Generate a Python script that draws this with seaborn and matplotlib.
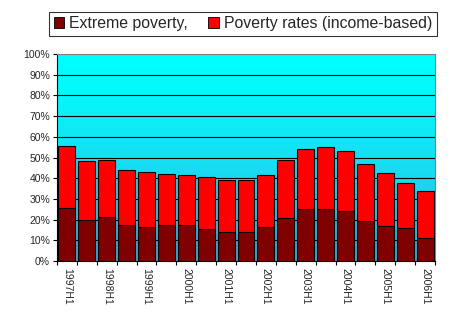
import numpy as np
import pandas as pd
import matplotlib
matplotlib.use("Agg")
import matplotlib.pyplot as plt
import seaborn as sns
from matplotlib.patches import Patch
from matplotlib.ticker import PercentFormatter, FixedLocator

periods = ["1997H1", "1997H2", "1998H1", "1998H2", "1999H1", "1999H2", "2000H1",
           "2000H2", "2001H1", "2001H2", "2002H1", "2002H2", "2003H1", "2003H2",
           "2004H1", "2004H2", "2005H1", "2005H2", "2006H1"]
extreme_poverty = [25.7, 19.8, 21.1, 17.2, 16.6, 17.2, 17.2, 15.3, 14.2, 14.1,
                   16.6, 20.9, 25.3, 25.3, 24.0, 19.2, 17.1, 15.8, 11.0]
poverty_rate = [55.5, 48.3, 48.8, 43.8, 42.8, 42.0, 41.4, 40.4, 39.1, 39.1,
                41.4, 48.6, 54.0, 54.9, 53.0, 46.7, 42.4, 37.5, 33.7]
legend_labels = ["Extreme poverty,", "Poverty rates (income-based)"]

df = pd.DataFrame({"period": periods,
                   "extreme": np.array(extreme_poverty) / 100,
                   "poverty": np.array(poverty_rate) / 100})

sns.set_style("white")
plt.rcParams["font.family"] = ["Liberation Sans", "DejaVu Sans"]

fig = plt.figure(figsize=(4.54, 3.27), dpi=100)
ax = fig.add_axes([57 / 454, 1 - 261 / 327, (435 - 57) / 454, (261 - 54) / 327])

# gradient background
grad = np.linspace(0, 1, 256) ** 1.3
top = np.array([0.0, 1.0, 1.0])
bot = np.array([0.20, 0.70, 0.88])
img = top[None, :] * (1 - grad[:, None]) + bot[None, :] * grad[:, None]
img = img.reshape(256, 1, 3)
n = len(periods)
ax.imshow(img, extent=(-0.5, n - 0.5, 0, 1), aspect="auto", zorder=0, origin="upper")

for y in np.arange(0.1, 1.0, 0.1):
    ax.axhline(y, color="black", lw=0.8, zorder=1)

sns.barplot(data=df, x="period", y="poverty", color="#FF0000", saturation=1,
            width=0.85, edgecolor="black", linewidth=0.8, ax=ax, zorder=2)
sns.barplot(data=df, x="period", y="extreme", color="#800000", saturation=1,
            width=0.85, edgecolor="black", linewidth=0.8, ax=ax, zorder=3)

ax.set_xlim(-0.5, n - 0.5)
ax.set_ylim(0, 1)
ax.set_xlabel("")
ax.set_ylabel("")

ax.yaxis.set_major_locator(FixedLocator(np.arange(0, 1.01, 0.1)))
ax.yaxis.set_major_formatter(PercentFormatter(1, decimals=0))
ax.tick_params(axis="y", direction="out", length=3, width=0.8, color="black",
               labelsize=7.5, pad=2, left=True)

ax.set_xticks(range(n))
ax.set_xticklabels([p if i % 2 == 0 else "" for i, p in enumerate(periods)],
                   rotation=-90, fontsize=7.5)
ax.tick_params(axis="x", length=0, pad=5)
ax.set_xticks(np.arange(-0.5, n, 1.0), minor=True)
ax.tick_params(axis="x", which="minor", direction="out", length=3, width=0.8,
               color="black", bottom=True)

for s in ["left", "bottom"]:
    ax.spines[s].set_color("black")
    ax.spines[s].set_linewidth(0.8)
for s in ["top", "right"]:
    ax.spines[s].set_color("#808080")
    ax.spines[s].set_linewidth(0.8)

handles = [Patch(facecolor="#800000", edgecolor="black", lw=0.6),
           Patch(facecolor="#FF0000", edgecolor="black", lw=0.6)]
leg = fig.legend(handles, legend_labels, ncol=2, loc="center",
                 bbox_to_anchor=(243 / 454, 1 - 23.8 / 327),
                 fontsize=11.4, frameon=True, fancybox=False,
                 edgecolor="black", handlelength=0.65, handleheight=0.65,
                 handletextpad=0.3, columnspacing=1.3, borderpad=0.3,
                 borderaxespad=0)
leg.get_frame().set_linewidth(0.8)

fig.savefig("out.png", dpi=100)
